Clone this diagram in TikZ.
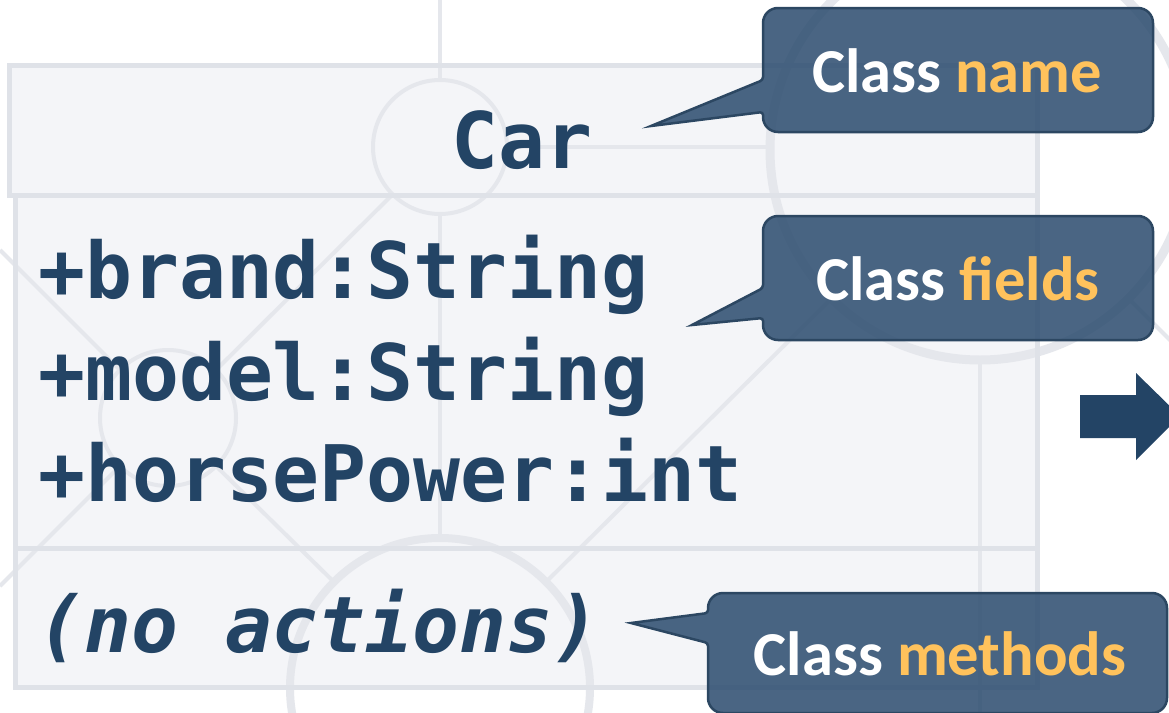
\documentclass[tikz,border=0pt]{standalone}
\usepackage{fontspec}
\setmainfont{Carlito}
\newfontfamily\codefont{DejaVu Sans Mono}
\definecolor{ink}{HTML}{234465}
\definecolor{boxfill}{HTML}{F4F5F8}
\definecolor{boxline}{HTML}{DFE2E8}
\definecolor{decogray}{HTML}{E5E7EC}
\definecolor{callfill}{HTML}{2B4B6E}
\definecolor{callline}{HTML}{2C4762}
\definecolor{accent}{HTML}{FFC25C}
\tikzset{decoline/.style={draw=decogray,line width=4pt},
  umlbox/.style={draw=boxline,line width=5pt},
  code/.style={font=\codefont\bfseries\fontsize{78}{90}\selectfont,text=ink,inner sep=0pt},
  callout/.style={fill=callfill,fill opacity=.85,draw=callline,line width=2.5pt},
  calltext/.style={font=\bfseries\fontsize{62.5}{70}\selectfont,text=white,inner sep=0pt}}

\begin{document}
\begin{tikzpicture}[x=1pt,y=-1pt]
\useasboundingbox (0,0) rectangle (1169,712);
\clip (0,0) rectangle (1169,712);
\fill[white] (0,0) rectangle (1169,712);
% class box background
\fill[boxfill] (9,65) rectangle (1037,195);\fill[boxfill] (15,195) rectangle (1037,687);
% background pattern
\draw[decoline] (440,147) circle (67);\draw[decoline] (168,418) circle (68);
\draw[decoline,line width=8pt] (440,688) circle (150);\draw[decoline,line width=9pt] (980,150) circle (210);
\draw[decoline] (440,0)--(440,80) (440,214)--(440,538) (507,147)--(770,147) (980,360)--(980,712);
\draw[decoline] (0,250)--(120,370) (216,466)--(334,582);
\draw[decoline] (393,194)--(216,370) (120,466)--(0,586);
\draw[decoline] (546,582)--(832,298) (1128,298)--(1250,420);
% class box outline
\draw[umlbox] (9,65) rectangle (1037,195);\draw[umlbox] (15,195) rectangle (1037,687);
\draw[umlbox] (15,548)--(1037,548);
\node[code,anchor=base] (cname) at (522,168) {Car};
\node[code,anchor=base west] (fbrand) at (38,298) {+brand:String};
\node[code,anchor=base west] (fmodel) at (38,400) {+model:String};
\node[code,anchor=base west] (fpower) at (38,501) {+horsePower:int};
\node[code,font=\codefont\bfseries\itshape\fontsize{78}{90}\selectfont,anchor=base west] (mnone) at (37,652) {(no actions)};
% callouts
\path[callout] (651,126) [rounded corners=3pt]--(763,112) [rounded corners=15pt]--(763,132)--(1153,132)--(1153,8)--(763,8) [rounded corners=3pt]--(763,80) [sharp corners]--cycle;
\node[calltext,anchor=base] (lname) at (957,92) {Class \textcolor{accent}{name}};
\path[callout] (692,325) [rounded corners=3pt]--(763,318) [rounded corners=15pt]--(763,340)--(1153,340)--(1153,216)--(763,216) [rounded corners=3pt]--(763,288) [sharp corners]--cycle;
\node[calltext,anchor=base] (lfields) at (958,300) {Class \textcolor{accent}{fields}};
\path[callout] (631,623) [rounded corners=3pt]--(708,643) [rounded corners=15pt]--(708,713)--(1167,713)--(1167,593)--(708,593) [rounded corners=3pt]--(708,613) [sharp corners]--cycle;
\node[calltext,anchor=base] (lmethods) at (940,675) {Class \textcolor{accent}{methods}};
% arrow at the right border
\fill[ink] (1080,395)--(1136,395)--(1136,373)--(1180,416)--(1136,460)--(1136,438)--(1080,438)--cycle;
\end{tikzpicture}
\end{document}
